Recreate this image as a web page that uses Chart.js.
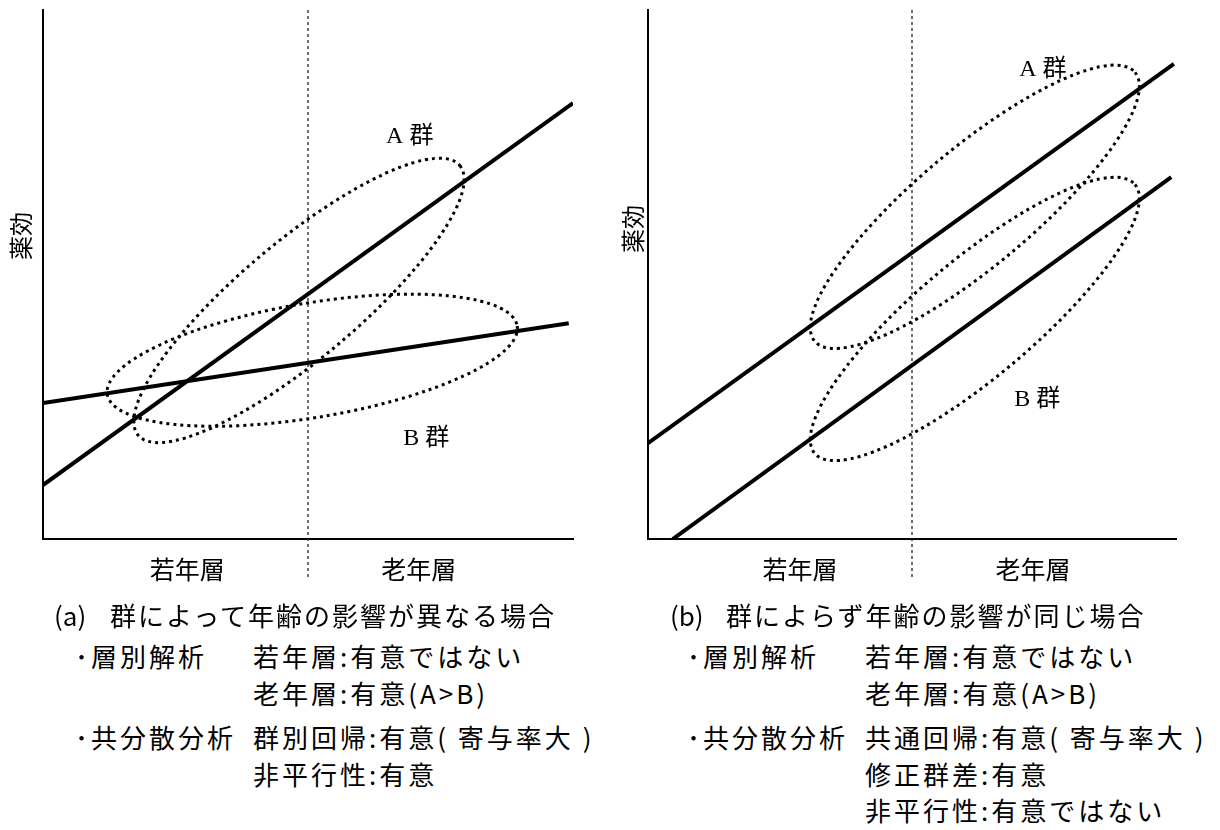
<!DOCTYPE html>
<html lang="ja">
<head>
<meta charset="utf-8">
<title>群と年齢の影響</title>
<script src="https://cdn.jsdelivr.net/npm/chart.js@4.4.1/dist/chart.umd.min.js"></script>
<style>
  body { margin: 0; background: #fff; }
  #page { position: relative; width: 1220px; height: 830px; overflow: hidden; font-family: "Noto Sans CJK JP", sans-serif; color: #000; }
  .panel { position: absolute; top: 0; width: 600px; height: 600px; }
  .txt { position: absolute; white-space: nowrap; font-size: 26px; line-height: 30px; letter-spacing: 3px; }
  .cap { font-size: 26px; letter-spacing: 2px; }
  .tag { display: inline-block; width: 56px; letter-spacing: 0; }
</style>
</head>
<body>
<div id="page">
  <div class="panel" style="left:0px"><canvas id="chartA"></canvas></div>
  <div class="panel" style="left:605px"><canvas id="chartB"></canvas></div>

  <!-- (a) -->
  <div class="txt cap" style="left:54px;top:600px"><span class="tag">(a)</span>群によって年齢の影響が異なる場合</div>
  <div class="txt" style="left:75px;top:641px">･層別解析</div>
  <div class="txt" style="left:253px;top:641px">若年層:有意ではない</div>
  <div class="txt" style="left:253px;top:678px">老年層:有意(A&gt;B)</div>
  <div class="txt" style="left:75px;top:722px">･共分散分析</div>
  <div class="txt" style="left:253px;top:722px">群別回帰:有意( 寄与率大 )</div>
  <div class="txt" style="left:253px;top:759px">非平行性:有意</div>

  <!-- (b) -->
  <div class="txt cap" style="left:670px;top:600px"><span class="tag">(b)</span>群によらず年齢の影響が同じ場合</div>
  <div class="txt" style="left:687px;top:641px">･層別解析</div>
  <div class="txt" style="left:865px;top:641px">若年層:有意ではない</div>
  <div class="txt" style="left:865px;top:678px">老年層:有意(A&gt;B)</div>
  <div class="txt" style="left:687px;top:722px">･共分散分析</div>
  <div class="txt" style="left:865px;top:722px">共通回帰:有意( 寄与率大 )</div>
  <div class="txt" style="left:865px;top:759px">修正群差:有意</div>
  <div class="txt" style="left:865px;top:795px">非平行性:有意ではない</div>
</div>

<script>
// x axis: 0-100 (age), y axis: 0-100 (薬効), both panels
var ageLabels = ['若年層', '老年層'];
var groupNames = ['A 群', 'B 群'];
var boundaryX = 50;          // 若年層 / 老年層 boundary
var boundaryY = [100, -7.4]; // dotted line runs a bit below the axis

// panel (a): effect of age differs by group
var aTickX = [27.2, 70.9];
var aLineAx = [0, 100];
var aLineAy = [10.2, 82.4];
var aLineBx = [0, 99.2];
var aLineBy = [25.7, 40.8];
// ellipse: centre x, centre y, semi-major, semi-minor, angle (deg)
var aEllipseA = [48.3, 45.1, 39.6, 11.1, 40];
var aEllipseB = [50.8, 33.8, 39.2, 10.8, 9.5];
var aGroupX = [69.2, 72.3];
var aGroupY = [76.0, 18.9];

// panel (b): same effect of age in both groups
var bTickX = [28.8, 72.9];
var bLineAx = [0, 99.6];
var bLineAy = [18.1, 89.8];
var bLineBx = [4.7, 99.1];
var bLineBy = [0, 68.4];
var bEllipseA = [61.9, 62.8, 39.6, 11.1, 40];
var bEllipseB = [61.9, 41.6, 39.6, 11.1, 40];
var bGroupX = [74.8, 73.7];
var bGroupY = [88.7, 26.3];

var yTitle = '薬効';

function toPoints(xs, ys) {
    return xs.map(function (v, i) { return { x: v, y: ys[i] }; });
}

// dotted ellipses, group names and the y title, all placed through the scales
var shapesPlugin = {
    id: 'shapes',
    afterDatasetsDraw: function (chart, args, opts) {
        var ctx = chart.ctx;
        var xs = chart.scales.x, ys = chart.scales.y;
        var unit = Math.abs(xs.getPixelForValue(1) - xs.getPixelForValue(0));
        ctx.save();
        ctx.strokeStyle = '#000';
        ctx.lineWidth = 3;
        ctx.setLineDash([3, 4]);
        opts.ellipses.forEach(function (e) {
            ctx.beginPath();
            ctx.ellipse(xs.getPixelForValue(e[0]), ys.getPixelForValue(e[1]),
                e[2] * unit, e[3] * unit, -e[4] * Math.PI / 180, 0, Math.PI * 2);
            ctx.stroke();
        });
        ctx.setLineDash([]);
        ctx.fillStyle = '#000';
        ctx.textAlign = 'center';
        ctx.textBaseline = 'middle';
        ctx.font = '24px "Liberation Serif", "Noto Sans CJK JP"';
        opts.groupX.forEach(function (gx, i) {
            ctx.fillText(groupNames[i], xs.getPixelForValue(gx), ys.getPixelForValue(opts.groupY[i]));
        });
        ctx.translate(opts.titleX, ys.getPixelForValue(opts.titleY));
        ctx.rotate(-Math.PI / 2);
        ctx.font = '24px "Noto Sans CJK JP"';
        ctx.fillText(yTitle, 0, 0);
        ctx.restore();
    }
};

function solidLine(xs, ys) {
    return {
        data: toPoints(xs, ys),
        showLine: true,
        borderColor: '#000',
        borderWidth: 4,
        pointRadius: 0
    };
}

function buildChart(id, lines, ellipses, tickX, groupX, groupY, padRight, titleX, titleY) {
    var datasets = lines.map(function (l) { return solidLine(l[0], l[1]); });
    datasets.push({
        data: toPoints([boundaryX, boundaryX], boundaryY),
        showLine: true,
        borderColor: '#222',
        borderWidth: 1.3,
        borderDash: [3, 3],
        pointRadius: 0,
        clip: false
    });
    return new Chart(document.getElementById(id), {
        type: 'scatter',
        data: { datasets: datasets },
        options: {
            responsive: true,
            maintainAspectRatio: false,
            animation: false,
            events: [],
            layout: { padding: { top: 10, right: padRight, left: 0, bottom: 0 } },
            plugins: {
                legend: { display: false },
                tooltip: { enabled: false },
                shapes: { ellipses: ellipses, groupX: groupX, groupY: groupY, titleX: titleX, titleY: titleY }
            },
            scales: {
                x: {
                    type: 'linear', min: 0, max: 100,
                    grid: { display: false, drawTicks: false },
                    border: { display: true, color: '#000', width: 2 },
                    afterBuildTicks: function (s) { s.ticks = tickX.map(function (v) { return { value: v }; }); },
                    afterFit: function (s) { s.height = 61; },
                    ticks: {
                        padding: 15, color: '#000', autoSkip: false, maxRotation: 0,
                        font: { family: '"Noto Sans CJK JP"', size: 25 },
                        callback: function (v, i) { return ageLabels[i]; }
                    }
                },
                y: {
                    type: 'linear', min: 0, max: 100,
                    grid: { display: false, drawTicks: false },
                    border: { display: true, color: '#000', width: 2 },
                    ticks: { display: false },
                    afterFit: function (s) { s.width = 43; }
                }
            }
        },
        plugins: [shapesPlugin]
    });
}

buildChart('chartA', [[aLineAx, aLineAy], [aLineBx, aLineBy]], [aEllipseA, aEllipseB],
    aTickX, aGroupX, aGroupY, 27, 21, 57.3);
buildChart('chartB', [[bLineAx, bLineAy], [bLineBx, bLineBy]], [bEllipseA, bEllipseB],
    bTickX, bGroupX, bGroupY, 29, 28, 58.6);
</script>
</body>
</html>
